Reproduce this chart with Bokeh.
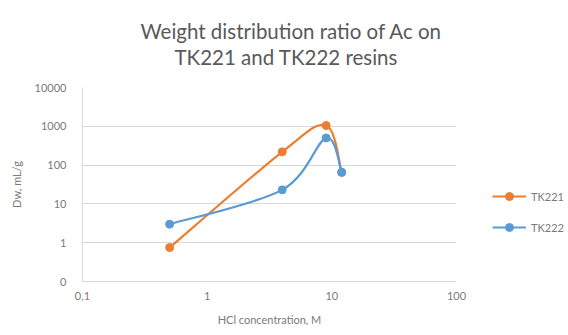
import numpy as np
from bokeh.plotting import figure
from bokeh.models import FixedTicker, Legend, LegendItem, Title, ColumnDataSource
from bokeh.embed import file_html
from bokeh.resources import INLINE

# ---- data ----
hcl = [0.5, 4, 9, 12]
tk221 = [0.75, 220, 1050, 65]
tk222 = [3.0, 23, 500, 65]
series_names = ["TK221", "TK222"]
x_ticks = [0.1, 1, 10, 100]
x_tick_labels = ["0,1", "1", "10", "100"]
y_ticks = [0.1, 1, 10, 100, 1000, 10000]
y_tick_labels = ["0", "1", "10", "100", "1000", "10000"]

colors = ["#ED7D31", "#5B9BD5"]
grey_txt = "#7a7a7a"
font = "Lato"

FW, FH = 374, 194

p = figure(frame_width=FW, frame_height=FH, x_axis_type="log", y_axis_type="log",
           x_range=(0.1, 100), y_range=(0.1, 10000),
           output_backend="svg", toolbar_location=None,
           min_border_left=82, min_border_right=112, min_border_top=87,
           min_border_bottom=52)
p.outline_line_color = None
p.background_fill_color = "white"

# smooth (Excel-like) bezier segments computed from data in screen-proportional log space
sx = FW / np.log10(100 / 0.1)
sy = FH / np.log10(10000 / 0.1)


def bez_source(xs, ys):
    u = np.log10(np.asarray(xs, float)) * sx
    v = np.log10(np.asarray(ys, float)) * sy
    P = np.stack([u, v], axis=1)
    n = len(P)
    d = dict(x0=[], y0=[], x1=[], y1=[], cx0=[], cy0=[], cx1=[], cy1=[])
    for i in range(n - 1):
        a = P[i - 1] if i > 0 else P[i]
        b = P[i + 2] if i + 2 < n else P[i + 1]
        c1 = P[i] + (P[i + 1] - a) / 6
        c2 = P[i + 1] - (b - P[i]) / 6
        d["x0"].append(xs[i]); d["y0"].append(ys[i])
        d["x1"].append(xs[i + 1]); d["y1"].append(ys[i + 1])
        d["cx0"].append(10 ** (c1[0] / sx)); d["cy0"].append(10 ** (c1[1] / sy))
        d["cx1"].append(10 ** (c2[0] / sx)); d["cy1"].append(10 ** (c2[1] / sy))
    return ColumnDataSource(d)


items = []
for name, ys, c in zip(series_names, [tk221, tk222], colors):
    br = p.bezier(x0="x0", y0="y0", x1="x1", y1="y1", cx0="cx0", cy0="cy0",
                  cx1="cx1", cy1="cy1", source=bez_source(hcl, ys),
                  line_color=c, line_width=2.2)
    sr = p.scatter(hcl, ys, size=8, fill_color=c, line_color=c)
    items.append(LegendItem(label=name, renderers=[br, sr]))

# axes
p.xaxis.ticker = FixedTicker(ticks=x_ticks)
p.yaxis.ticker = FixedTicker(ticks=y_ticks)
p.xaxis.major_label_overrides = {t: l for t, l in zip(x_ticks, x_tick_labels)}
p.yaxis.major_label_overrides = {t: l for t, l in zip(y_ticks, y_tick_labels)}
for ax in (p.xaxis, p.yaxis):
    ax.axis_line_color = "#d9d9d9"
    ax.axis_line_width = 1
    ax.major_tick_line_color = None
    ax.minor_tick_line_color = None
    ax.major_label_text_font = font
    ax.major_label_text_font_size = "11px"
    ax.major_label_text_color = grey_txt
    ax.axis_label_text_font = font
    ax.axis_label_text_font_size = "11px"
    ax.axis_label_text_color = grey_txt
    ax.axis_label_text_font_style = "normal"
p.xaxis.axis_label = "HCl concentration, M"
p.yaxis.axis_label = "Dw, mL/g"
p.xaxis.major_label_standoff = 4
p.yaxis.major_label_standoff = 10
p.xaxis.axis_label_standoff = 10
p.yaxis.axis_label_standoff = 9

p.xgrid.grid_line_color = None
p.ygrid.grid_line_color = "#d9d9d9"
p.ygrid.grid_line_width = 1

# titles (a blank spacer title sits between the frame and the two title lines)
spacer = Title(text=" ", text_font=font, text_font_size="1px", standoff=16)
t2 = Title(text="TK221 and TK222 resins", align="left", offset=92,
           text_font=font, text_font_size="20.5px", text_font_style="normal",
           text_color="#595959", standoff=0)
t1 = Title(text="Weight distribution ratio of Ac on", align="left", offset=58,
           text_font=font, text_font_size="20.5px", text_font_style="normal",
           text_color="#595959", standoff=0)
p.add_layout(spacer, "above")
p.add_layout(t2, "above")
p.add_layout(t1, "above")

legend = Legend(items=items, location=(36, 44), orientation="vertical",
                padding=0, margin=0, border_line_alpha=0, background_fill_alpha=0,
                glyph_width=34, glyph_height=20, label_height=20, spacing=11,
                label_standoff=5, label_text_font=font, label_text_font_size="11px",
                label_text_color=grey_txt)
p.add_layout(legend, "right")

open("out.html", "w").write(file_html(p, INLINE))
